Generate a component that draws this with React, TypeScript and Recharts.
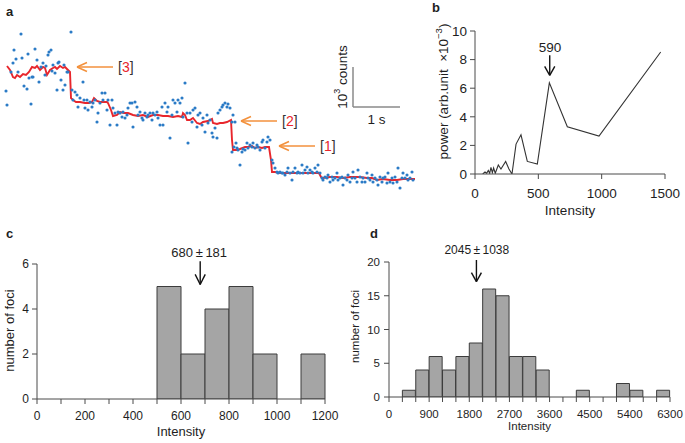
import React from 'react';
import {
  ComposedChart,
  LineChart,
  Line,
  Scatter,
  Bar,
  XAxis,
  YAxis,
  ReferenceLine,
  ReferenceDot,
  Label,
} from 'recharts';

const FONT = '"Liberation Sans", Arial, Helvetica, sans-serif';
const TEXT = '#1e1e1e';
const AXIS = '#4a4a4a';
const BLUE = '#2b7bc6';
const RED = '#e8262c';
const ORANGE = '#f3913c';

// ---------------- panel a : single-focus photobleaching trace ----------------
// [frame, counts]   (47 frames = 1 s)
const spotsLevel3: [number, number][] = [
  [6, 2725], [7, 2375], [11, 3200], [13, 3425], [14, 3750], [16, 3525], [18, 3200], [21, 4150],
  [22, 3550], [24, 2850], [27, 2775], [28, 3650], [29, 3050], [31, 2400], [32, 3075], [33, 3075],
  [35, 3775], [37, 3500], [39, 2950], [41, 3325], [43, 3425], [45, 3125], [46, 3350], [48, 3625],
  [49, 3700], [51, 3750], [52, 3225], [53, 3375], [55, 3175], [57, 2750], [58, 3425], [59, 3450],
  [61, 3000], [63, 2750], [64, 3375], [65, 2875], [67, 3200], [68, 3200], [71, 4200],
];
const spotsLevel2: [number, number][] = [
  [72, 2750], [73, 2500], [75, 2700], [77, 2625], [78, 2325], [80, 2550], [83, 2950], [84, 2500],
  [85, 2300], [87, 2500], [88, 2250], [90, 2450], [92, 2325], [93, 2425], [95, 2500], [97, 1950],
  [98, 2175], [100, 2425], [102, 2675], [103, 2500], [105, 2675], [107, 2250], [108, 2500], [110, 1875],
  [112, 2500], [113, 2300], [115, 2175], [117, 1875], [118, 2200], [120, 2175], [122, 2075], [123, 2200],
  [125, 2050], [127, 2125], [128, 2300], [130, 2425], [132, 2425], [133, 1825], [135, 2450], [137, 2325],
  [138, 2125], [140, 2200], [142, 2050], [143, 2000], [145, 2175], [147, 2075], [148, 2125], [150, 2175],
  [152, 2000], [153, 2175], [155, 2125], [157, 2200], [158, 2050], [160, 1875], [162, 2325], [163, 1875],
  [165, 2425], [167, 2200], [168, 2325], [170, 1550], [172, 2125], [173, 2500], [175, 2425], [177, 2200],
  [178, 2500], [180, 2425], [182, 2550], [183, 2075], [185, 2925], [187, 2175], [188, 1425], [190, 2175],
  [192, 1950], [193, 2250], [195, 2300], [197, 1825], [198, 2125], [200, 2175], [202, 1875], [203, 2050],
  [205, 1700], [207, 2125], [208, 1925], [210, 2000], [212, 1675], [213, 1575], [215, 1800], [217, 1550],
  [218, 2175], [220, 2250], [222, 2325], [223, 2375], [225, 2425], [227, 2325], [228, 2400], [230, 2300],
  [232, 1950], [233, 2125], [235, 1950],
];
const spotsLevel1: [number, number][] = [
  [232, 1200], [234, 1325], [236, 1425], [237, 1300], [238, 1250], [240, 875], [242, 1200], [243, 1275],
  [245, 1250], [247, 1425], [248, 1300], [250, 1375], [252, 1325], [253, 1425], [255, 1300], [257, 1375],
  [258, 1325], [260, 1250], [262, 1450], [263, 1500], [265, 1300], [267, 1450], [268, 1575], [270, 1500],
];
const spotsBackground: [number, number][] = [
  [272, 1000], [273, 925], [275, 800], [277, 700], [278, 675], [280, 700], [282, 675], [283, 675],
  [285, 625], [287, 700], [288, 800], [290, 675], [292, 500], [293, 700], [295, 800], [297, 675],
  [298, 700], [300, 675], [302, 875], [303, 675], [305, 750], [307, 825], [308, 675], [310, 750],
  [312, 700], [313, 675], [315, 800], [317, 700], [318, 875], [320, 675], [322, 550], [323, 500],
  [325, 575], [327, 550], [328, 625], [330, 450], [332, 575], [333, 500], [335, 550], [337, 675],
  [338, 500], [340, 550], [342, 575], [343, 375], [345, 550], [347, 500], [348, 625], [350, 450],
  [352, 550], [353, 700], [355, 550], [357, 450], [358, 750], [360, 575], [362, 450], [363, 550],
  [365, 450], [367, 675], [368, 550], [370, 500], [372, 625], [373, 450], [375, 550], [377, 500],
  [378, 375], [380, 575], [382, 450], [383, 550], [385, 575], [387, 425], [388, 675], [390, 450],
  [392, 550], [393, 425], [395, 575], [397, 450], [398, 800], [400, 300], [402, 550], [403, 675],
  [405, 550], [407, 625], [408, 500], [410, 550], [412, 700], [413, 500],
];
const traceFit: [number, number][] = [
  [7, 3350], [10, 3250], [13, 3075], [15, 3050], [17, 3125], [20, 3075], [23, 3150], [26, 3125],
  [29, 3200], [32, 3325], [35, 3300], [37, 3350], [40, 3250], [43, 3325], [45, 3300], [47, 3125],
  [50, 3250], [53, 3300], [55, 3325], [57, 3275], [60, 3350], [63, 3300], [65, 3325], [68, 3250],
  [70, 3200], [71, 2550], [73, 2500], [76, 2450], [80, 2450], [85, 2425], [89, 2425], [92, 2450],
  [94, 2550], [97, 2475], [100, 2450], [103, 2450], [107, 2450], [108, 2425], [111, 2250], [113, 2100],
  [117, 2125], [120, 2200], [124, 2175], [128, 2175], [133, 2125], [138, 2100], [143, 2125], [148, 2075],
  [153, 2125], [158, 2125], [163, 2100], [168, 2100], [173, 2075], [178, 2100], [182, 2075], [183, 2175],
  [185, 2125], [187, 2000], [190, 2000], [193, 2050], [197, 1925], [200, 1900], [203, 1950], [208, 1975],
  [212, 2025], [213, 1925], [217, 1900], [220, 1925], [223, 1925], [227, 1950], [231, 2000], [232, 1500],
  [233, 1250], [237, 1250], [240, 1275], [245, 1325], [248, 1325], [252, 1350], [255, 1300], [258, 1325],
  [262, 1300], [265, 1325], [269, 1325], [271, 1000], [272, 700], [275, 700], [280, 675], [287, 675],
  [293, 675], [300, 675], [307, 675], [312, 675], [319, 675], [321, 575], [323, 550], [330, 575],
  [337, 575], [343, 550], [350, 575], [360, 575], [367, 550], [372, 550], [377, 500], [383, 525],
  [390, 500], [397, 500], [403, 525], [410, 525], [415, 525],
];
const stepLabels = ['3', '2', '1'];
const stepArrowTips: [number, number][] = [[77, 3325], [241, 1975], [279, 1350]];
const framesPerSecond = 47;
const scaleCounts = 1000;
const scaleOrigin: [number, number] = [353, 2325];

// ---------------- panel b : power spectrum ----------------
const fftIntensity = [61, 79, 92, 105, 116, 126, 137, 147, 160, 184, 205, 242, 268, 292, 324, 363, 413, 492, 587, 729, 979, 1466];
const fftPower = [0, 0.14, 0.05, 0.25, 0.05, 0.46, 0.09, 0.42, 0.05, 0.63, 0.35, 0.88, 0.35, 0, 2.09, 2.74, 0.88, 0.7, 6.37, 3.3, 2.65, 8.53];
const fftXTicks = [0, 500, 1000, 1500];
const fftYTicks = [0, 2, 4, 6, 8, 10];
const fftPeakLabel = '590';

// ---------------- panel c : histogram ----------------
const cBinCenters = [50, 150, 250, 350, 450, 550, 650, 750, 850, 950, 1050, 1150];
const cCounts = [0, 0, 0, 0, 0, 5, 2, 4, 5, 2, 0, 2];
const cTicks = [0, 100, 200, 300, 400, 500, 600, 700, 800, 900, 1000, 1100, 1200];
const cYTicks = [0, 2, 4, 6];
const cMean = 680;
const cMeanLabel = '680\u2009±\u2009181';

// ---------------- panel d : histogram ----------------
const dBinCenters = [150, 450, 750, 1050, 1350, 1650, 1950, 2250, 2550, 2850, 3150, 3450, 3750, 4050, 4350, 4650, 4950, 5250, 5550, 5850, 6150];
const dCounts = [0, 1, 4, 6, 4, 6, 8, 16, 15, 6, 6, 4, 0, 0, 1, 0, 0, 2, 1, 0, 1];
const dTicks = [0, 300, 600, 900, 1200, 1500, 1800, 2100, 2400, 2700, 3000, 3300, 3600, 3900, 4200, 4500, 4800, 5100, 5400, 5700, 6000, 6300];
const dYTicks = [0, 5, 10, 15, 20];
const dMeanArrowX = 1960;
const dMeanLabel = '2045\u2009±\u20091038';

// ---------------- helpers ----------------
const toPts = (arr: [number, number][]) => arr.map(([t, c]) => ({ t, c }));
const allSpots = [...toPts(spotsLevel3), ...toPts(spotsLevel2), ...toPts(spotsLevel1), ...toPts(spotsBackground)];
const traceData = toPts(traceFit);
const fftData = fftIntensity.map((i, k) => ({ i, p: fftPower[k] }));
const cData = cBinCenters.map((bin, k) => ({ bin, n: cCounts[k] }));
const dData = dBinCenters.map((bin, k) => ({ bin, n: dCounts[k] }));

const dotShape = (p: any) => <circle cx={p.cx} cy={p.cy} r={1.55} fill={BLUE} />;

function seg(key: string, a: { x: number; y: number }, b: { x: number; y: number }, color: string, w: number, xAxisId: any = 0) {
  return (
    <ReferenceLine
      key={key}
      xAxisId={xAxisId}
      segment={[a, b]}
      stroke={color}
      strokeWidth={w}
      ifOverflow="visible"
    />
  );
}

function leftArrow(key: string, tipX: number, tailX: number, y: number, hx: number, hy: number) {
  return [
    seg(key + 's', { x: tipX, y }, { x: tailX, y }, ORANGE, 1.6),
    seg(key + 'u', { x: tipX + hx, y: y + hy }, { x: tipX, y }, ORANGE, 1.6),
    seg(key + 'd', { x: tipX + hx, y: y - hy }, { x: tipX, y }, ORANGE, 1.6),
  ];
}

function downArrow(key: string, x: number, yTop: number, yTip: number, hx: number, hy: number, xAxisId: any = 0) {
  return [
    seg(key + 's', { x, y: yTop }, { x, y: yTip }, '#111', 1.4, xAxisId),
    seg(key + 'l', { x: x - hx, y: yTip + hy }, { x, y: yTip }, '#111', 1.4, xAxisId),
    seg(key + 'r', { x: x + hx, y: yTip + hy }, { x, y: yTip }, '#111', 1.4, xAxisId),
  ];
}

const textShape = (content: React.ReactNode, size: number, anchor: string = 'middle', rotate = false) => (p: any) => (
  <text
    x={p.cx}
    y={p.cy}
    textAnchor={anchor as any}
    dominantBaseline="central"
    fontFamily={FONT}
    fontSize={size}
    fill={TEXT}
    transform={rotate ? `rotate(-90 ${p.cx} ${p.cy})` : undefined}
  >
    {content}
  </text>
);

const vLabel = (content: React.ReactNode, dx: number, dy: number, size: number) => (props: any) => {
  const vb = props.viewBox || { x: 0, y: 0, width: 0, height: 0 };
  const x = vb.x + dx;
  const y = vb.y + vb.height / 2 + dy;
  return (
    <text
      x={x}
      y={y}
      transform={`rotate(-90 ${x} ${y})`}
      textAnchor="middle"
      dominantBaseline="central"
      fontFamily={FONT}
      fontSize={size}
      fill={TEXT}
    >
      {content}
    </text>
  );
};

// ---------------- panels ----------------
function PanelA() {
  return (
    <ComposedChart width={420} height={200} margin={{ top: 20, right: 0, bottom: 0, left: 0 }}>
      <XAxis type="number" dataKey="t" domain={[0, 420]} hide allowDataOverflow height={0} />
      <YAxis type="number" dataKey="c" domain={[0, 4500]} hide allowDataOverflow width={0} />
      <Scatter data={allSpots} dataKey="c" fill={BLUE} shape={dotShape} isAnimationActive={false} />
      <Line
        data={traceData}
        dataKey="c"
        type="linear"
        stroke={RED}
        strokeWidth={1.9}
        dot={false}
        activeDot={false}
        isAnimationActive={false}
      />
      {stepArrowTips.map(([x, y], k) => leftArrow('arr' + k, x, x + 36, y, 10, 110))}
      {stepArrowTips.map(([x, y], k) => (
        <ReferenceDot
          key={'lab' + k}
          x={x + 41}
          y={y}
          r={1}
          ifOverflow="visible"
          shape={(p: any) => (
            <text x={p.cx} y={p.cy} dominantBaseline="central" fontFamily={FONT} fontSize={14} fill="#333">
              [<tspan fill={RED}>{stepLabels[k]}</tspan>]
            </text>
          )}
        />
      ))}
      {seg('sbv', { x: scaleOrigin[0], y: scaleOrigin[1] }, { x: scaleOrigin[0], y: scaleOrigin[1] + scaleCounts }, '#8a8a8a', 1.5)}
      {seg('sbh', { x: scaleOrigin[0], y: scaleOrigin[1] }, { x: scaleOrigin[0] + framesPerSecond, y: scaleOrigin[1] }, '#8a8a8a', 1.5)}
      <ReferenceDot
        x={scaleOrigin[0] - 11}
        y={scaleOrigin[1] + scaleCounts * 0.75}
        r={1}
        ifOverflow="visible"
        shape={textShape(
          <>
            10<tspan dy={-5} fontSize={9}>3</tspan>
            <tspan dy={5}> counts</tspan>
          </>,
          13.5,
          'middle',
          true
        )}
      />
      <ReferenceDot
        x={scaleOrigin[0] + framesPerSecond / 2}
        y={scaleOrigin[1] - 300}
        r={1}
        ifOverflow="visible"
        shape={textShape('1 s', 13.5)}
      />
    </ComposedChart>
  );
}

function PanelB() {
  return (
    <LineChart width={265} height={220} data={fftData} margin={{ top: 31, right: 20, bottom: 5, left: 10 }}>
      <XAxis
        type="number"
        dataKey="i"
        domain={[0, 1500]}
        ticks={fftXTicks}
        height={41}
        tickSize={5}
        tickMargin={9}
        stroke={AXIS}
        tick={{ fill: TEXT, fontSize: 13.5, fontFamily: FONT }}
        allowDataOverflow
      >
        <Label value="Intensity" position="insideBottom" offset={0} fill={TEXT} fontSize={13.5} fontFamily={FONT} />
      </XAxis>
      <YAxis
        type="number"
        domain={[0, 10]}
        ticks={fftYTicks}
        width={45}
        tickSize={5}
        tickMargin={3}
        stroke={AXIS}
        tick={{ fill: TEXT, fontSize: 13.5, fontFamily: FONT }}
        allowDataOverflow
        label={{
          content: vLabel(
            <>
              {'power (arb.unit \u00a0×10'}
              <tspan dy={-5} fontSize={9.5}>−3</tspan>
              <tspan dy={5}>)</tspan>
            </>,
            13,
            -11,
            13.5
          ),
        }}
      />
      <Line dataKey="p" type="linear" stroke="#333" strokeWidth={1.1} dot={false} activeDot={false} isAnimationActive={false} />
      {downArrow('pk', 590, 8.3, 6.9, 40, 0.63)}
      <ReferenceDot x={592} y={8.86} r={1} ifOverflow="visible" shape={textShape(fftPeakLabel, 13.5)} />
    </LineChart>
  );
}

function Histogram(props: {
  data: any[];
  width: number;
  height: number;
  margin: any;
  domain: [number, number];
  ticks: number[];
  labelEvery: number;
  yDomain: [number, number];
  yTicks: number[];
  yWidth: number;
  xHeight: number;
  tickFont: number;
  tickMargin: number;
  titleFont: number;
  titleOffset: number;
  yLabelDx: number;
  yLabelDy: number;
  yTickMargin: number;
  annotations: React.ReactNode;
}) {
  const p = props;
  return (
    <ComposedChart width={p.width} height={p.height} data={p.data} margin={p.margin} barCategoryGap={0} barGap={0}>
      <XAxis
        xAxisId="num"
        dataKey="bin"
        type="number"
        domain={p.domain}
        ticks={p.ticks}
        interval={0}
        allowDataOverflow
        tickFormatter={(v: number) => (v % p.labelEvery === 0 ? String(v) : '')}
        height={p.xHeight}
        tickSize={5}
        tickMargin={p.tickMargin}
        stroke={AXIS}
        tick={{ fill: TEXT, fontSize: p.tickFont, fontFamily: FONT }}
      >
        <Label value="Intensity" position="insideBottom" offset={p.titleOffset} fill={TEXT} fontSize={p.titleFont} fontFamily={FONT} />
      </XAxis>
      <XAxis xAxisId="bins" dataKey="bin" type="category" hide height={0} />
      <YAxis
        type="number"
        domain={p.yDomain}
        ticks={p.yTicks}
        interval={0}
        width={p.yWidth}
        tickSize={5}
        tickMargin={p.yTickMargin}
        stroke={AXIS}
        tick={{ fill: TEXT, fontSize: p.tickFont, fontFamily: FONT }}
        allowDataOverflow
        label={{ content: vLabel('number of foci', p.yLabelDx, p.yLabelDy, p.titleFont) }}
      />
      <Bar xAxisId="bins" dataKey="n" fill="#a5a5a5" stroke="#3c3c3c" strokeWidth={1} isAnimationActive={false} />
      {p.annotations}
    </ComposedChart>
  );
}

function PanelC() {
  return (
    <Histogram
      data={cData}
      width={340}
      height={213}
      margin={{ top: 34, right: 15, bottom: 0, left: 7 }}
      domain={[0, 1200]}
      ticks={cTicks}
      labelEvery={200}
      yDomain={[0, 6]}
      yTicks={cYTicks}
      yWidth={30}
      xHeight={44}
      tickFont={12}
      tickMargin={7}
      titleFont={13}
      titleOffset={7}
      yLabelDx={2.5}
      yLabelDy={-1}
      yTickMargin={3}
      annotations={[
        ...downArrow('cm', cMean, 6.12, 5.09, 21, 0.45, 'num'),
        <ReferenceDot key="cml" xAxisId="num" x={676} y={6.52} r={1} ifOverflow="visible" shape={textShape(cMeanLabel, 13)} />,
      ]}
    />
  );
}

function PanelD() {
  return (
    <Histogram
      data={dData}
      width={345}
      height={213}
      margin={{ top: 32, right: 15, bottom: 0, left: 14 }}
      domain={[0, 6300]}
      ticks={dTicks}
      labelEvery={900}
      yDomain={[0, 20]}
      yTicks={dYTicks}
      yWidth={35}
      xHeight={46}
      tickFont={11.5}
      tickMargin={8}
      titleFont={11.5}
      titleOffset={13}
      yLabelDx={1}
      yLabelDy={-3}
      yTickMargin={4}
      annotations={[
        ...downArrow('dm', dMeanArrowX, 20.3, 17.1, 112, 1.33, 'num'),
        <ReferenceDot key="dml" xAxisId="num" x={1968} y={21.8} r={1} ifOverflow="visible" shape={textShape(dMeanLabel, 12)} />,
      ]}
    />
  );
}

const panelLetters: [string, number, number][] = [
  ['a', 6, 16],
  ['b', 432, 12],
  ['c', 6, 238],
  ['d', 370, 238],
];

export default function App() {
  return (
    <div style={{ position: 'absolute', left: 0, top: 0, width: 685, height: 443, background: '#fff', overflow: 'hidden' }}>
      <div style={{ position: 'absolute', left: 0, top: 0 }}>
        <PanelA />
      </div>
      <div style={{ position: 'absolute', left: 420, top: 0 }}>
        <PanelB />
      </div>
      <div style={{ position: 'absolute', left: 0, top: 230 }}>
        <PanelC />
      </div>
      <div style={{ position: 'absolute', left: 340, top: 230 }}>
        <PanelD />
      </div>
      <svg width={685} height={443} style={{ position: 'absolute', left: 0, top: 0, pointerEvents: 'none' }}>
        {panelLetters.map(([t, x, y]) => (
          <text key={t} x={x} y={y} fontFamily={FONT} fontWeight="bold" fontSize={13} fill={TEXT}>
            {t}
          </text>
        ))}
      </svg>
    </div>
  );
}
